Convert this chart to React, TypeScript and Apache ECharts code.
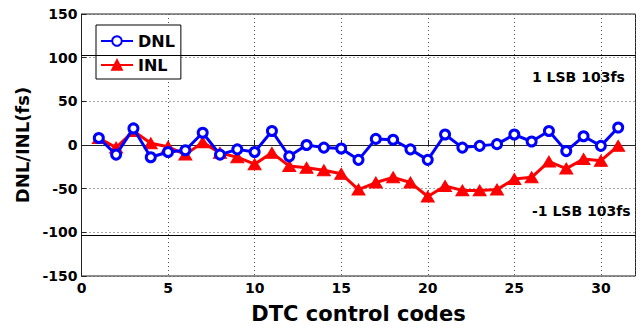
import React, { useEffect, useRef } from "react";
import * as echarts from "echarts";

const codes = [1,2,3,4,5,6,7,8,9,10,11,12,13,14,15,16,17,18,19,20,21,22,23,24,25,26,27,28,29,30,31];
const dnl = [8,-11,19,-14,-8,-6,14,-11,-5,-8,16,-13,0,-3,-4,-17,7,6,-5,-17,12,-3,-1,1,12,4,16,-7,10,-1,20];
const inl = [8,-3,16,2,-2,-11,3,-9,-14,-22,-9,-24,-26,-29,-33,-51,-43,-37,-43,-59,-47,-52,-52,-51,-39,-37,-19,-27,-16,-18,-1];
const lsbLines = [103, -103];
const xTicks = { min: 0, max: 32, interval: 5 };
const yTicks = { min: -150, max: 150, interval: 50 };

const FONT = "'DejaVu Sans', sans-serif";

export default function App() {
  const ref = useRef<HTMLDivElement>(null);
  useEffect(() => {
    if (!ref.current) return;
    const chart = echarts.init(ref.current, null, { renderer: "svg" });
    const pair = (vals: number[]) => codes.map((c, i) => [c, vals[i]]);
    const split = { show: true, lineStyle: { type: [1, 3], color: "#555", width: 1 } };
    chart.setOption({
      animation: false,
      backgroundColor: "#ffffff",
      textStyle: { fontFamily: FONT },
      grid: { left: 81.5, top: 14, width: 554, height: 266, show: true, borderColor: "#222", borderWidth: 1, backgroundColor: "transparent" },
      legend: {
        left: 96, top: 25, orient: "vertical",
        backgroundColor: "#fff", borderColor: "#000", borderWidth: 1,
        padding: [8, 6, 6, 4], itemGap: 8, itemWidth: 32, itemHeight: 12,
        textStyle: { fontFamily: FONT, fontWeight: "bold", fontSize: 16, color: "#000" },
        data: ["DNL", "INL"],
      },
      xAxis: {
        type: "value", min: xTicks.min, max: xTicks.max, interval: xTicks.interval,
        name: "DTC control codes", nameLocation: "middle", nameGap: 27,
        nameTextStyle: { fontFamily: FONT, fontWeight: "bold", fontSize: 21, color: "#000" },
        axisLine: { lineStyle: { color: "#222", width: 1 } },
        axisTick: { inside: true, length: 5, lineStyle: { color: "#222" } },
        axisLabel: { fontFamily: FONT, fontWeight: "bold", fontSize: 14, color: "#000", margin: 5, showMaxLabel: false },
        splitLine: split,
      },
      yAxis: {
        type: "value", min: yTicks.min, max: yTicks.max, interval: yTicks.interval,
        name: "DNL/INL(fs)", nameLocation: "middle", nameGap: 45, nameRotate: 90,
        nameTextStyle: { fontFamily: FONT, fontWeight: "bold", fontSize: 18, color: "#000" },
        axisLine: { show: true, lineStyle: { color: "#222", width: 1 } },
        axisTick: { show: true, inside: true, length: 5, lineStyle: { color: "#222" } },
        axisLabel: { fontFamily: FONT, fontWeight: "bold", fontSize: 14, color: "#000", margin: 4 },
        splitLine: split,
      },
      series: [
        {
          name: "DNL", type: "line", data: pair(dnl),
          symbol: "circle", symbolSize: 9, showAllSymbol: true,
          lineStyle: { color: "#0000ff", width: 3 },
          itemStyle: { color: "#ffffff", borderColor: "#0000ff", borderWidth: 3 },
          z: 3,
          markLine: {
            silent: true, symbol: "none", label: { show: false },
            lineStyle: { color: "#000", type: "solid", width: 1 },
            data: lsbLines.map((v) => ({ yAxis: v })),
          },
        },
        {
          name: "INL", type: "line", data: pair(inl),
          symbol: "triangle", symbolSize: [13, 11], showAllSymbol: true,
          lineStyle: { color: "#ff0000", width: 3 },
          itemStyle: { color: "#ff0000", borderColor: "#ff0000", borderWidth: 1 },
          z: 2,
        },
      ],
      graphic: [
        { type: "text", left: 532, top: 70, style: { text: "1 LSB 103fs", fontFamily: FONT, fontWeight: "bold", fontSize: 14, fill: "#000" } },
        { type: "text", left: 532, top: 204, style: { text: "-1 LSB 103fs", fontFamily: FONT, fontWeight: "bold", fontSize: 14, fill: "#000" } },
      ],
    });
    return () => chart.dispose();
  }, []);
  return <div ref={ref} style={{ position: "fixed", left: 0, top: 0, width: 642, height: 329 }} />;
}
